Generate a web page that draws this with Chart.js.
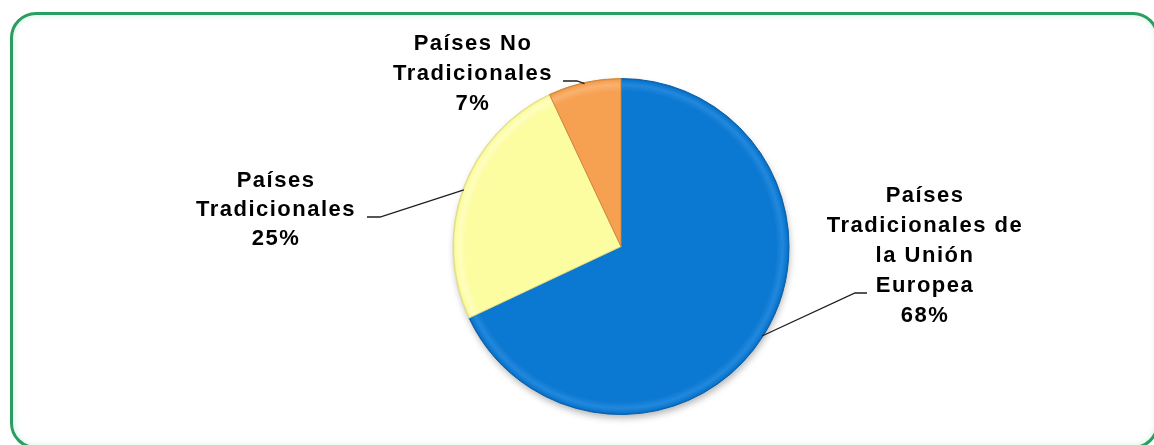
<!DOCTYPE html>
<html>
<head>
<meta charset="utf-8">
<script src="https://cdn.jsdelivr.net/npm/chart.js@4.4.0/dist/chart.umd.min.js"></script>
<style>
  html, body { margin: 0; padding: 0; background: #fff; overflow: hidden; }
  #wrap { position: relative; width: 1154px; height: 445px; }
  #frame {
    position: absolute; left: 10px; top: 12px; width: 1143px; height: 431px;
    border: 3px solid #2a9d62; border-radius: 26px;
    box-shadow: inset 0 0 6px rgba(120, 210, 160, 0.35);
  }
  #chartShares { position: absolute; left: 0; top: 0; }
</style>
</head>
<body>
<div id="wrap">
  <div id="frame"></div>
  <canvas id="chartShares" width="1154" height="445"></canvas>
</div>
<script>
// export destinations, share of total
const categories = [
  ['Países', 'Tradicionales de', 'la Unión', 'Europea'],
  ['Países', 'Tradicionales'],
  ['Países No', 'Tradicionales']
];
const shares = [68, 25, 7];

// fill, rim highlight and rim shadow for each slice
const palette = [
  { base: '#0b78d1', light: '#2288dc', dark: '#0a5ea8' },
  { base: '#fcfca0', light: '#fefec0', dark: '#e2dc86' },
  { base: '#f6a152', light: '#f9b26e', dark: '#d38638' }
];

// where each label block sits and where its leader meets the text
const labelLayout = [
  { cx: 924, top: 202, lineH: 30, leader: [[855, 293], [867, 293]] },
  { cx: 275, top: 187, lineH: 29, leader: [[380, 217], [367, 217]] },
  { cx: 472, top: 50, lineH: 30, leader: [[577, 81], [563, 81]] }
];

function pieGeometry(chart) {
  const a = chart.chartArea;
  return {
    x: (a.left + a.right) / 2,
    y: (a.top + a.bottom) / 2,
    r: Math.min(a.right - a.left, a.bottom - a.top) / 2
  };
}

function sliceFill(ctx) {
  const p = palette[ctx.dataIndex];
  const chart = ctx.chart;
  if (!chart.chartArea) return p.base;
  const g = pieGeometry(chart);
  const grad = chart.ctx.createRadialGradient(g.x, g.y, 0, g.x, g.y, g.r);
  grad.addColorStop(0, p.base);
  grad.addColorStop(0.92, p.base);
  grad.addColorStop(0.96, p.light);
  grad.addColorStop(0.985, p.base);
  grad.addColorStop(1, p.dark);
  return grad;
}

// soft drop shadow under the whole pie
const pieShadow = {
  id: 'pieShadow',
  beforeDatasetsDraw(chart) {
    const ctx = chart.ctx;
    const g = pieGeometry(chart);
    ctx.save();
    ctx.shadowColor = 'rgba(0, 0, 0, 0.3)';
    ctx.shadowBlur = 7;
    ctx.shadowOffsetX = 1;
    ctx.shadowOffsetY = 4;
    ctx.fillStyle = '#0b78d1';
    ctx.beginPath();
    ctx.arc(g.x, g.y, g.r - 1, 0, Math.PI * 2);
    ctx.fill();
    ctx.restore();
  }
};

// category + percentage labels with leader lines to the slice rims
const sliceLabels = {
  id: 'sliceLabels',
  afterDatasetsDraw(chart) {
    const ctx = chart.ctx;
    const arcs = chart.getDatasetMeta(0).data;
    const total = shares.reduce((s, v) => s + v, 0);
    ctx.save();
    arcs.forEach((arc, i) => {
      const lay = labelLayout[i];
      const { x, y, startAngle, endAngle, outerRadius } =
        arc.getProps(['x', 'y', 'startAngle', 'endAngle', 'outerRadius'], true);
      const mid = (startAngle + endAngle) / 2;
      const ex = x + Math.cos(mid) * (outerRadius - 1);
      const ey = y + Math.sin(mid) * (outerRadius - 1);

      ctx.strokeStyle = '#1e1e1e';
      ctx.lineWidth = 1.3;
      ctx.beginPath();
      ctx.moveTo(ex, ey);
      lay.leader.forEach(([px, py]) => ctx.lineTo(px, py));
      ctx.stroke();

      const lines = categories[i].concat([Math.round(shares[i] / total * 100) + '%']);
      ctx.fillStyle = '#000';
      ctx.font = 'bold 22px "Liberation Sans", Arial, sans-serif';
      ctx.letterSpacing = '1.5px';
      ctx.textAlign = 'center';
      ctx.textBaseline = 'alphabetic';
      lines.forEach((t, k) => ctx.fillText(t, lay.cx + 1, lay.top + k * lay.lineH));
    });
    ctx.restore();
  }
};

new Chart(document.getElementById('chartShares'), {
  type: 'pie',
  data: {
    labels: categories,
    datasets: [{
      data: shares,
      backgroundColor: sliceFill,
      borderColor: palette.map(p => p.dark),
      borderWidth: 1
    }]
  },
  options: {
    responsive: false,
    animation: false,
    layout: { padding: { top: 78, bottom: 30, left: 321, right: 233 } },
    plugins: {
      legend: { display: false },
      tooltip: { enabled: false }
    }
  },
  plugins: [pieShadow, sliceLabels]
});
</script>
</body>
</html>
